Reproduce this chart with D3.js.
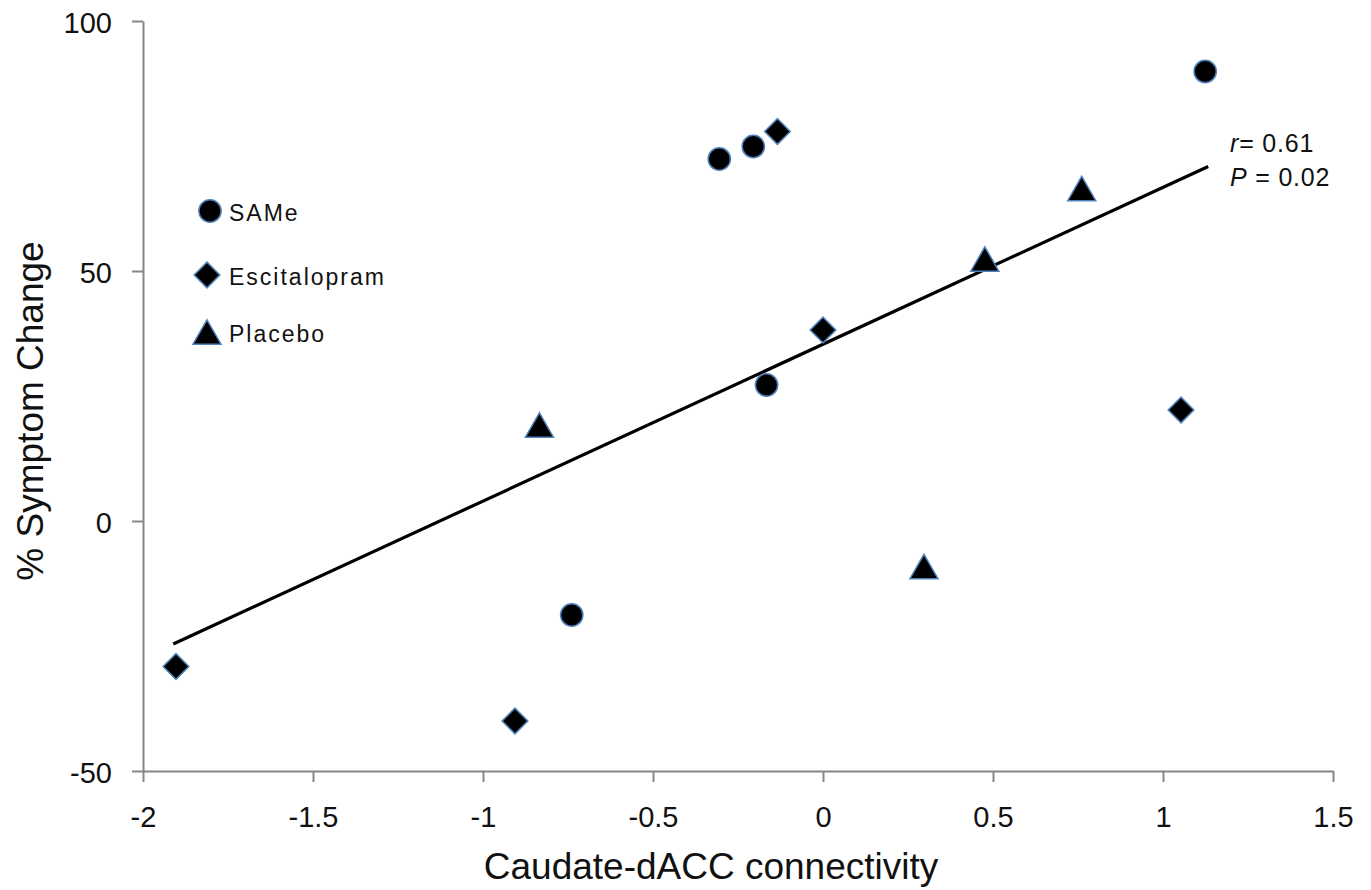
<!DOCTYPE html>
<html>
<head>
<meta charset="utf-8">
<script src="https://cdn.jsdelivr.net/npm/d3@7"></script>
<style>
  body { margin: 0; background: #fff; }
  text { font-family: "Liberation Sans", Arial, sans-serif; fill: #111; }
</style>
</head>
<body>
<script>
// data: [connectivity, % symptom change]
const same = [[-0.305, 72.4], [-0.205, 74.9], [1.124, 89.9], [-0.166, 27.2], [-0.739, -18.8]];
const escitalopram = [[-0.134, 77.9], [0.0, 38.2], [1.053, 22.2], [-1.903, -29.1], [-0.906, -40.0]];
const placebo = [[-0.834, 19.2], [0.476, 52.4], [0.761, 66.5], [0.297, -9.1]];
const trend = [[-1.911, -24.6], [1.133, 70.9]];

const xTicks = [-2, -1.5, -1, -0.5, 0, 0.5, 1, 1.5];
const yTicks = [-50, 0, 50, 100];
const seriesNames = ["SAMe", "Escitalopram", "Placebo"];

const W = 1371, H = 890;
const svg = d3.select("body").append("svg").attr("width", W).attr("height", H);

const x = d3.scaleLinear().domain([-2, 1.5]).range([143, 1333]);
const y = d3.scaleLinear().domain([-50, 100]).range([771, 21]);

// axes, plain hyphen for negatives like the original
const fmt = d => String(d);
const xAxis = svg.append("g").attr("transform", "translate(0," + y(-50) + ")")
    .call(d3.axisBottom(x).tickValues(xTicks).tickSize(11).tickSizeOuter(0).tickPadding(25).tickFormat(fmt));
const yAxis = svg.append("g").attr("transform", "translate(" + x(-2) + ",0)")
    .call(d3.axisLeft(y).tickValues(yTicks).tickSize(11).tickSizeOuter(0).tickPadding(20).tickFormat(fmt));

[xAxis, yAxis].forEach(g => {
    g.selectAll("path, line").attr("stroke", "#868686").attr("stroke-width", 2);
    g.selectAll("text").attr("font-size", 29).attr("fill", "#111")
        .style("font-family", "'Liberation Sans', Arial, sans-serif");
});
xAxis.selectAll("text").attr("dy", "0.68em");
yAxis.selectAll("text").attr("dy", "0.4em");

// trend line
svg.append("path")
    .datum(trend)
    .attr("d", d3.line().x(d => x(d[0])).y(d => y(d[1])))
    .attr("fill", "none").attr("stroke", "#000").attr("stroke-width", 3.2);

// markers
const edge = "#4f81bd";
const circle = d3.symbol().type(d3.symbolCircle).size(390)();
const diamond = d3.symbol().type(d3.symbolSquare).size(330)();
const triSize = 340;
const triangle = d3.symbol().type(d3.symbolTriangle).size(triSize)();
const triShift = Math.sqrt(triSize / (3 * Math.sqrt(3))) / 2;

function drawMarks(data, shape, extra) {
    svg.append("g").selectAll("path")
        .data(data).enter().append("path")
        .attr("d", shape)
        .attr("transform", d => "translate(" + x(d[0]) + "," + (y(d[1]) + extra.dy) + ")" + extra.rot)
        .attr("fill", "#000").attr("stroke", edge).attr("stroke-width", 1.5);
}
drawMarks(same, circle, {dy: 0, rot: ""});
drawMarks(escitalopram, diamond, {dy: 0, rot: " rotate(45)"});
drawMarks(placebo, triangle, {dy: triShift, rot: ""});

// legend
const legend = svg.append("g");
const legendShapes = [
    {shape: circle, cx: 210, cy: 211, rot: "", dy: 0},
    {shape: diamond, cx: 207, cy: 275, rot: " rotate(45)", dy: 0},
    {shape: triangle, cx: 207, cy: 332, rot: "", dy: triShift}
];
seriesNames.forEach((name, i) => {
    const s = legendShapes[i];
    legend.append("path").attr("d", s.shape)
        .attr("transform", "translate(" + s.cx + "," + (s.cy + s.dy) + ")" + s.rot)
        .attr("fill", "#000").attr("stroke", edge).attr("stroke-width", 1.5);
    legend.append("text").attr("x", 229).attr("y", s.cy + 9.5)
        .attr("font-size", 23).attr("letter-spacing", 2).text(name);
});

// r and P annotation
const ann = svg.append("g").attr("font-size", 25).attr("letter-spacing", 0.8);
const t1 = ann.append("text").attr("x", 1230).attr("y", 152);
t1.append("tspan").attr("font-style", "italic").text("r");
t1.append("tspan").text("= 0.61");
const t2 = ann.append("text").attr("x", 1230).attr("y", 186);
t2.append("tspan").attr("font-style", "italic").text("P");
t2.append("tspan").text(" = 0.02");

// axis titles
svg.append("text").attr("x", 711).attr("y", 879).attr("text-anchor", "middle")
    .attr("font-size", 37).text("Caudate-dACC connectivity");
svg.append("text").attr("transform", "translate(43,411) rotate(-90)").attr("text-anchor", "middle")
    .attr("font-size", 37).text("% Symptom Change");
</script>
</body>
</html>
